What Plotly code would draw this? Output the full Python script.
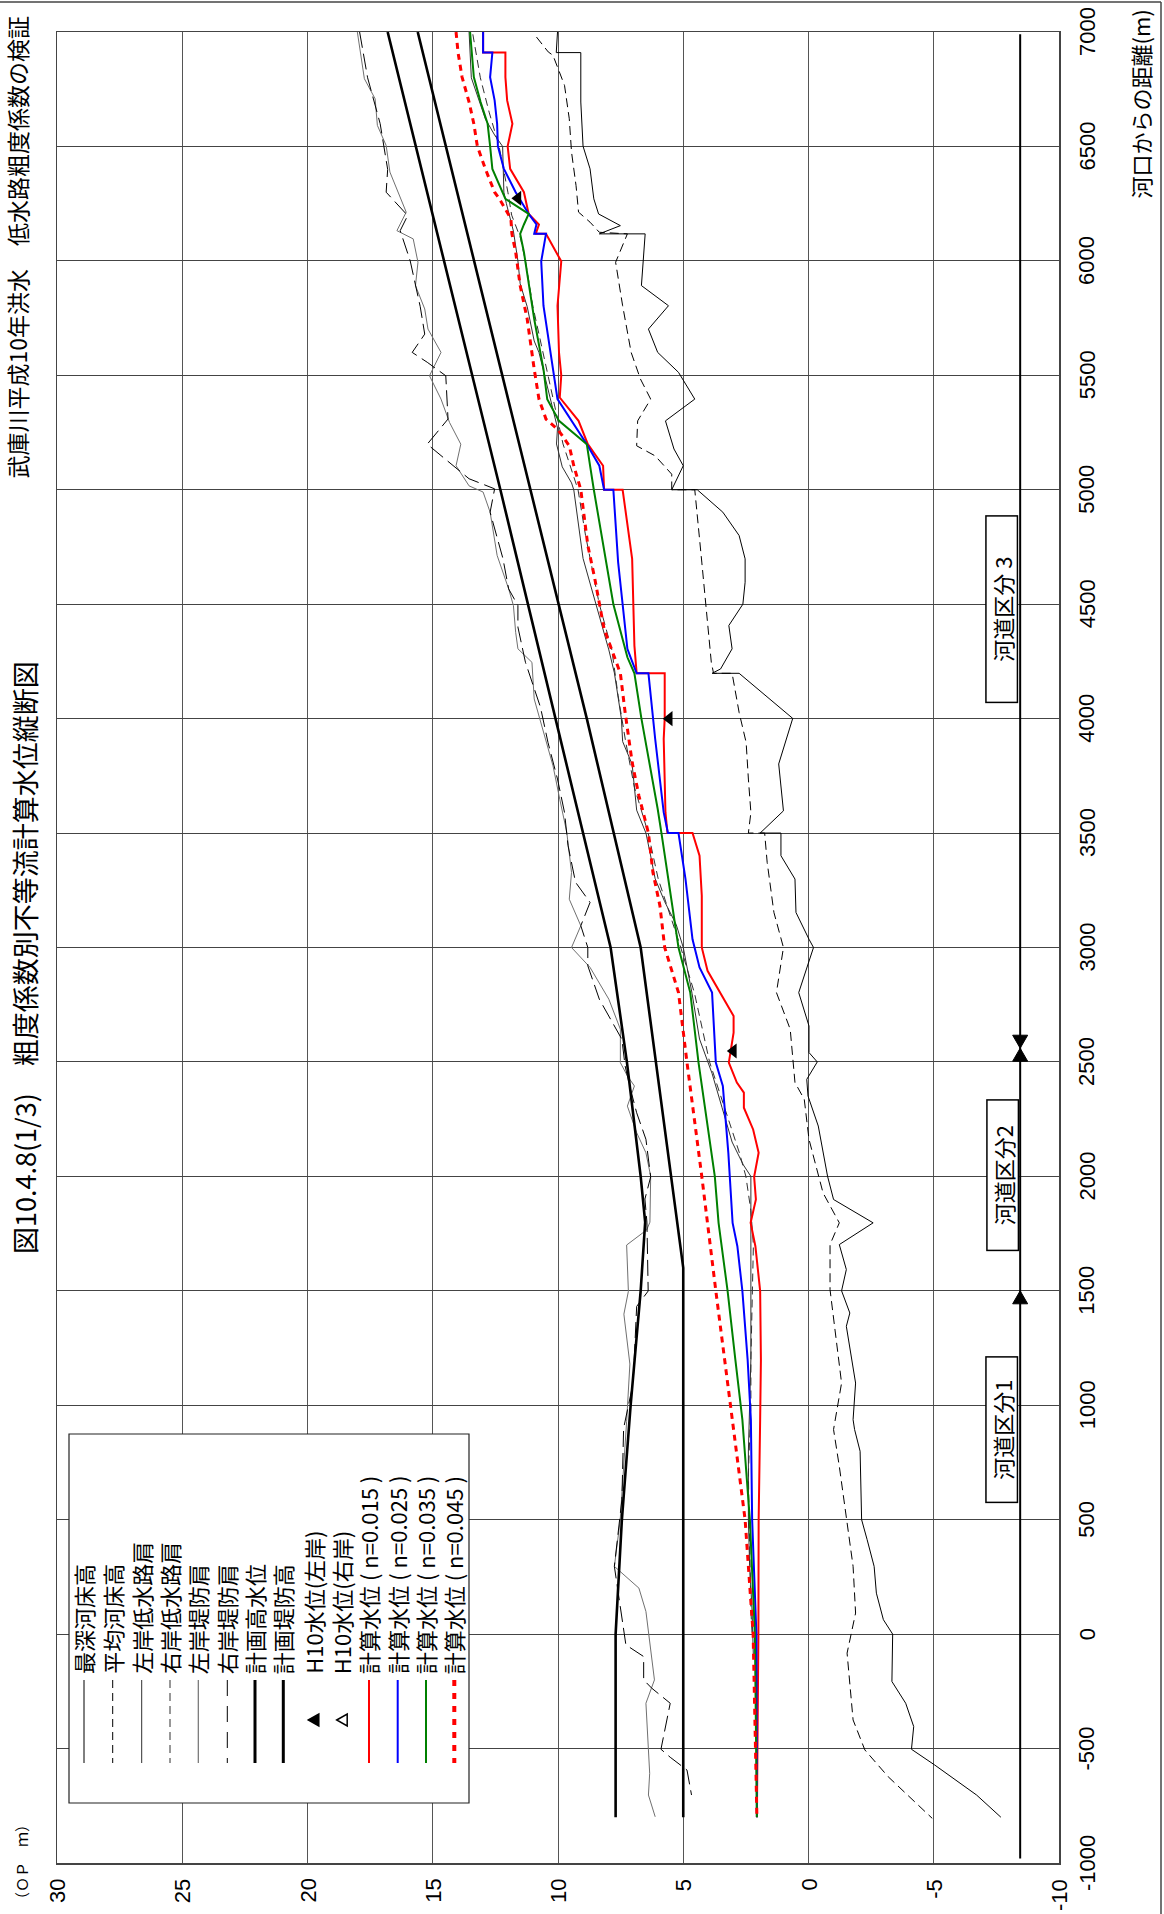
import plotly.graph_objects as go

# ---------------- data ----------------
elev_ticks = [30, 25, 20, 15, 10, 5, 0, -5, -10]
dist_ticks = [-1000, -500, 0, 500, 1000, 1500, 2000, 2500, 3000, 3500,
              4000, 4500, 5000, 5500, 6000, 6500, 7000]

# 最深河床高
deep_bed_d = [7000, 6910, 6910, 6694, 6501, 6402, 6271, 6205, 6154, 6125, 6118, 6118, 5892, 5804, 5702, 5600,
              5513, 5396, 5301, 5178, 5105, 5000, 5000, 4902, 4800, 4698, 4596, 4500, 4407, 4305, 4217, 4198,
              4198, 4001, 3802, 3597, 3500, 3500, 3401, 3299, 3153, 3036, 3000, 2803, 2657, 2541, 2500, 2424,
              2351, 2220, 2001, 1899, 1797, 1702, 1593, 1500, 1403, 1345, 1097, 937, 894, 799, 500, 413, 296,
              179, 63, 0, -207, -302, -404, -503, -572, -703, -800]
deep_bed_e = [10.02, 10.07, 9.09, 9.09, 9.00, 8.72, 8.57, 8.38, 7.51, 8.16, 8.35, 6.52, 6.67, 5.59, 6.39, 6.02,
              5.19, 4.54, 5.71, 5.37, 5.00, 5.46, 4.44, 3.42, 2.77, 2.53, 2.53, 2.62, 3.18, 3.05, 3.51, 3.85,
              2.77, 0.63, 1.19, 1.00, 1.93, 1.10, 1.10, 0.54, 0.50, -0.02, -0.20, 0.39, -0.02, -0.02, -0.35, 0.07,
              0.02, -0.39, -0.76, -1.00, -2.58, -1.23, -1.51, -1.32, -1.65, -1.51, -1.88, -1.78, -1.84, -2.06,
              -2.12, -2.34, -2.62, -2.71, -2.99, -3.36, -3.33, -3.88, -4.20, -4.11, -5.04, -6.71, -7.68]

# 平均河床高
avg_bed_d = [6978, 6913, 6898, 6767, 6621, 6475, 6329, 6213, 6169, 6125, 6118, 5994, 5804, 5600, 5484, 5396,
             5301, 5192, 5148, 5068, 5000, 5000, 4684, 4465, 4246, 4198, 4198, 4027, 3896, 3736, 3590, 3500,
             3500, 3372, 3153, 3000, 2803, 2643, 2410, 2337, 2162, 1928, 1797, 1702, 1505, 1097, 966, 894,
             733, 500, 296, 92, -83, -375, -506, -623, -805]
avg_bed_e = [10.86, 10.39, 10.20, 9.74, 9.55, 9.46, 9.28, 9.18, 8.72, 8.35, 7.23, 7.70, 7.42, 7.08, 6.71, 6.30,
             6.82, 6.86, 6.12, 5.46, 5.46, 4.54, 4.26, 4.07, 3.88, 3.79, 3.05, 2.77, 2.49, 2.40, 2.30, 2.40,
             1.75, 1.65, 1.38, 1.00, 1.28, 0.73, 0.54, 0.17, -0.02, -0.58, -1.23, -0.86, -0.86, -1.32, -1.13,
             -1.00, -1.23, -1.51, -1.78, -1.88, -1.54, -1.78, -2.25, -3.18, -4.94]

# 左岸低水路肩
lw_left_d = [7000, 6800, 6620, 6550, 6500, 6300, 6250, 6130, 6000, 5900, 5800, 5650, 5600, 5400, 5270, 5200,
             5100, 5030, 5000, 4700, 4500, 4300, 4200, 4000, 3900, 3800, 3600, 3500, 3400, 3300, 3200, 3100,
             3000, 2800, 2600, 2450, 2300, 2150, 2050, 2000, 1800, 1500, 1200, 1000, 800, 500, 300, 100, -100]
lw_left_e = [13.55, 13.46, 12.90, 12.53, 12.21, 12.16, 12.06, 11.78, 11.60, 11.51, 11.23, 10.95, 10.76, 10.30,
             10.02, 10.06, 9.83, 9.46, 9.37, 9.00, 8.49, 7.97, 7.75, 7.47, 7.42, 7.04, 6.86, 6.49, 6.30, 6.12,
             5.74, 5.28, 5.00, 4.65, 4.35, 3.85, 3.45, 3.05, 2.60, 2.30, 2.30, 2.30, 2.30, 2.35, 2.40, 2.40,
             2.35, 2.25, 2.20]

# 右岸低水路肩
lw_right_d = [6990, 6800, 6650, 6500, 6300, 6200, 6100, 6000, 5800, 5600, 5400, 5200, 5000, 4800, 4500, 4300,
              4100, 3900, 3700, 3500, 3300, 3100, 3000, 2800, 2500, 2300, 2100, 2000, 1850, 1700, 1500, 1200,
              1000, 700, 400, 100, 0]
lw_right_e = [13.40, 13.10, 12.75, 12.35, 12.00, 11.85, 11.50, 11.30, 11.00, 10.60, 10.20, 9.80, 9.20, 8.90,
              8.35, 7.85, 7.60, 7.30, 6.95, 6.40, 6.00, 5.40, 5.10, 4.55, 3.95, 3.35, 2.75, 2.50, 2.30, 2.20,
              2.25, 2.30, 2.30, 2.40, 2.35, 2.30, 2.25]

# 左岸堤防肩
lv_left_d = [7000, 6796, 6708, 6592, 6504, 6388, 6213, 6132, 6096, 5994, 5892, 5790, 5702, 5600, 5498, 5396,
             5294, 5199, 5105, 5017, 4990, 4902, 4713, 4567, 4494, 4377, 4305, 4246, 4086, 3896, 3794, 3648,
             3503, 3328, 3211, 3095, 3000, 2913, 2774, 2643, 2497, 2439, 2395, 2307, 2191, 2103, 2001, 1800,
             1766, 1700, 1498, 1398, 1180, 929, 587, 494, 296, 201, 99, -200, -302, -608, -703, -798]
lv_left_e = [18.01, 17.73, 17.30, 17.21, 16.86, 16.71, 16.06, 16.43, 15.78, 15.59, 15.69, 15.32, 15.19, 14.67,
             15.13, 14.67, 14.33, 13.88, 14.07, 13.55, 12.99, 12.71, 12.43, 11.97, 11.78, 11.69, 11.60, 11.04,
             10.95, 10.48, 10.20, 9.93, 9.65, 9.46, 9.55, 9.09, 9.46, 8.72, 7.97, 7.51, 7.51, 7.23, 6.95, 7.23,
             6.86, 6.49, 6.30, 6.33, 6.46, 7.26, 7.19, 7.37, 7.13, 7.26, 7.45, 7.52, 7.75, 6.77, 6.49, 6.15,
             6.49, 6.34, 6.39, 6.12]

# 右岸堤防肩
lv_right_d = [7000, 6800, 6600, 6400, 6300, 6271, 6198, 6132, 6000, 5800, 5680, 5600, 5557, 5498, 5309, 5199,
              5105, 5048, 5004, 4902, 4700, 4567, 4494, 4400, 4246, 4050, 3896, 3736, 3590, 3445, 3285, 3197,
              3095, 3000, 2920, 2774, 2599, 2482, 2395, 2278, 2162, 1998, 1901, 1800, 1499, 1432, 1097, 900,
              587, 296, -47, -98, -200, -236, -302, -503, -538, -594, -703]
lv_right_e = [17.92, 17.60, 17.10, 16.80, 16.86, 16.62, 16.00, 16.30, 15.90, 15.50, 15.32, 15.82, 15.22, 14.48,
              14.39, 15.22, 14.20, 13.55, 12.53, 12.71, 12.20, 11.97, 11.60, 11.60, 11.30, 10.70, 10.40, 10.02,
              9.74, 9.60, 9.30, 8.72, 9.09, 8.81, 8.81, 8.35, 7.45, 7.32, 7.14, 6.86, 6.49, 6.30, 6.53, 6.45,
              6.40, 6.86, 7.00, 7.38, 7.45, 7.75, 7.29, 6.58, 6.58, 6.26, 5.52, 5.89, 5.52, 4.85, 4.67]

# 計画高水位 / 計画堤防高
hwl_d = [7000, 5000, 4000, 3000, 2500, 2000, 1600, -800]
hwl_e = [15.6, 11.1, 8.85, 6.7, 6.1, 5.5, 5.0, 5.0]
levee_d = [7000, 5000, 4000, 3000, 2500, 2000, 1800, 1500, 1000, 500, 0, -800]
levee_e = [16.8, 12.3, 10.1, 7.9, 7.25, 6.7, 6.52, 6.7, 7.1, 7.45, 7.7, 7.7]

# H10水位(左岸)
h10_left_d = [6274, 4000, 2548]
h10_left_e = [11.6, 5.56, 3.0]

# 計算水位
n015_d = [7000, 6910, 6910, 6803, 6701, 6599, 6501, 6402, 6300, 6205, 6159, 6118, 6118, 5998, 5804, 5600, 5500,
          5403, 5301, 5199, 5105, 5000, 5000, 4698, 4319, 4198, 4198, 4001, 3911, 3590, 3500, 3500, 3401, 3226,
          3000, 2898, 2701, 2628, 2497, 2410, 2366, 2300, 2205, 2103, 1998, 1899, 1797, 1695, 1500, 1199, 937,
          500, 0, -800]
n015_e = [12.99, 12.99, 12.10, 12.10, 12.03, 11.82, 12.01, 11.91, 11.36, 11.17, 10.76, 10.89, 10.48, 9.87, 10.02,
          9.96, 9.87, 9.93, 9.18, 8.81, 8.20, 8.16, 7.42, 7.04, 6.95, 6.86, 5.74, 5.74, 5.78, 5.71, 5.63, 4.63,
          4.35, 4.26, 4.26, 4.03, 2.99, 2.99, 3.18, 2.86, 2.58, 2.58, 2.21, 1.99, 2.17, 2.10, 2.31, 2.12, 1.93,
          1.90, 1.93, 1.99, 2.00, 2.06]
n025_d = [7000, 6910, 6910, 6803, 6701, 6599, 6501, 6402, 6300, 6205, 6159, 6118, 6118, 5998, 5804, 5600, 5500,
          5396, 5199, 5105, 5000, 5000, 4684, 4305, 4261, 4198, 4198, 3911, 3590, 3500, 3500, 3299, 3036, 2913,
          2803, 2497, 2395, 2103, 1797, 1695, 1500, 1199, 937, 500, 0, -800]
n025_e = [12.99, 12.99, 12.62, 12.71, 12.53, 12.43, 12.40, 12.16, 11.69, 11.17, 10.86, 10.95, 10.48, 10.67, 10.58,
          10.30, 10.15, 10.02, 8.85, 8.35, 8.16, 7.79, 7.60, 7.23, 7.08, 6.86, 6.39, 6.12, 5.78, 5.61, 5.19, 4.91,
          4.63, 4.35, 3.85, 3.70, 3.42, 3.20, 3.03, 2.84, 2.64, 2.43, 2.30, 2.25, 2.08, 2.06]
n035_d = [7000, 6910, 6803, 6694, 6599, 6501, 6402, 6271, 6205, 6159, 6118, 6038, 5746, 5527, 5396, 5301, 5199,
          5105, 5000, 4500, 4268, 4198, 4000, 3605, 3500, 3000, 2803, 2497, 2000, 1797, 1500, 1199, 937, 500, 0,
          -800]
n035_e = [13.51, 13.45, 13.36, 13.09, 12.81, 12.71, 12.62, 12.10, 11.17, 11.36, 11.51, 11.36, 10.95, 10.58, 10.43,
          9.96, 8.85, 8.72, 8.57, 7.79, 7.23, 6.95, 6.67, 6.02, 5.87, 5.19, 4.72, 4.39, 3.74, 3.59, 3.23, 2.92,
          2.64, 2.34, 2.14, 2.06]
n045_d = [7000, 6910, 6803, 6694, 6599, 6501, 6402, 6300, 6271, 6184, 6118, 6038, 5892, 5746, 5527, 5396, 5309,
          5265, 5236, 5192, 5105, 5000, 4757, 4611, 4392, 4198, 4027, 3809, 3663, 3500, 3328, 3182, 3000, 2803,
          2497, 2000, 1500, 937, 500, 0, -800]
n045_e = [14.07, 13.99, 13.83, 13.55, 13.36, 13.22, 12.90, 12.53, 12.34, 11.88, 11.84, 11.69, 11.51, 11.23, 10.95,
          10.76, 10.48, 10.02, 9.83, 9.55, 9.37, 9.09, 8.81, 8.53, 8.16, 7.51, 7.32, 7.04, 6.77, 6.39, 6.21, 5.93,
          5.74, 5.19, 4.85, 4.26, 3.70, 3.03, 2.53, 2.21, 2.06]

# 河道区分
kubun_elev = -8.45
kubun_extent = [-980, 6990]
kubun_bounds = [1500, 2560]
kubun_labels = ["河道区分1", "河道区分2", "河道区分 3"]
kubun_label_dist = [892, 2006, 4479]

legend_labels = ["最深河床高", "平均河床高", "左岸低水路肩", "右岸低水路肩", "左岸堤防肩", "右岸堤防肩",
                 "計画高水位", "計画堤防高", "H10水位(左岸)", "H10水位(右岸)",
                 "計算水位 ( n=0.015 )", "計算水位 ( n=0.025 )", "計算水位 ( n=0.035 )", "計算水位 ( n=0.045 )"]

title_text = "図10.4.8(1/3)　粗度係数別不等流計算水位縦断図"
subtitle_text = "武庫川平成10年洪水　低水路粗度係数の検証"
xlabel_text = "河口からの距離(m)"
ylabel_text = "（ＯＰ　ｍ）"

# ---------------- layout helpers ----------------
W, H = 1164, 1914
ML, MR, MT, MB = 57, 105, 32, 51
PW, PH = W - ML - MR, H - MT - MB
E_PER_PX = 40.0 / PW
D_PER_PX = 8000.0 / PH


def pxx(x):
    return (x - ML) / PW


def pxy(y):
    return (H - MB - y) / PH


NUMF = "Liberation Sans, Arial, sans-serif"
JPF = "Noto Sans CJK JP, sans-serif"

fig = go.Figure()

styles = [
    (lv_left_e, lv_left_d, dict(color="#707070", width=1)),
    (lv_right_e, lv_right_d, dict(color="black", width=1, dash="16px,6px")),
    (lw_left_e, lw_left_d, dict(color="#303030", width=1)),
    (lw_right_e, lw_right_d, dict(color="#303030", width=1, dash="8px,5px")),
    (avg_bed_e, avg_bed_d, dict(color="black", width=1, dash="9px,5px")),
    (deep_bed_e, deep_bed_d, dict(color="black", width=1)),
    (levee_e, levee_d, dict(color="black", width=2.6)),
    (hwl_e, hwl_d, dict(color="black", width=2.6)),
    (n015_e, n015_d, dict(color="#ff0000", width=2)),
    (n025_e, n025_d, dict(color="#0000ff", width=2)),
    (n035_e, n035_d, dict(color="#008000", width=2)),
    (n045_e, n045_d, dict(color="#ff0000", width=3, dash="6px,5px")),
]
for e, d, ln in styles:
    fig.add_trace(go.Scatter(x=e, y=d, mode="lines", line=ln, hoverinfo="skip", showlegend=False))

fig.add_trace(go.Scatter(x=h10_left_e, y=h10_left_d, mode="markers",
                         marker=dict(symbol="triangle-left", size=13, color="black"),
                         hoverinfo="skip", showlegend=False))

# 河道区分 line
fig.add_trace(go.Scatter(x=[kubun_elev, kubun_elev], y=kubun_extent, mode="lines",
                         line=dict(color="black", width=2), hoverinfo="skip", showlegend=False))

shapes = []
# arrows on 河道区分 line
hw = 7.5 * E_PER_PX
th = 13 * D_PER_PX
arrow_specs = [(kubun_bounds[0], 1), (kubun_bounds[1], 1), (kubun_bounds[1], -1)]
for b, sgn in arrow_specs:
    base = b - sgn * th
    path = f"M {kubun_elev},{b} L {kubun_elev - hw},{base} L {kubun_elev + hw},{base} Z"
    shapes.append(dict(type="path", xref="x", yref="y", path=path, fillcolor="black",
                       line=dict(color="black", width=1), layer="above"))

# outer frame (top and right)
shapes.append(dict(type="line", xref="paper", yref="paper", x0=pxx(0), x1=pxx(1161), y0=pxy(2), y1=pxy(2),
                   line=dict(color="#444", width=1.5)))
shapes.append(dict(type="line", xref="paper", yref="paper", x0=pxx(1161), x1=pxx(1161), y0=pxy(2), y1=pxy(1914),
                   line=dict(color="#444", width=1.5)))

# legend box
shapes.append(dict(type="rect", xref="paper", yref="paper", x0=pxx(69), x1=pxx(469), y0=pxy(1434), y1=pxy(1803),
                   fillcolor="white", line=dict(color="#222", width=1.2), layer="above"))

leg_x = [84, 112.7, 141.7, 170, 198.3, 227.3, 255, 283.3, 313.3, 341.7, 369, 397.7, 426, 454.3]
leg_line_styles = [
    dict(color="black", width=1),
    dict(color="black", width=1, dash="8px,5px"),
    dict(color="#303030", width=1),
    dict(color="#303030", width=1, dash="8px,5px"),
    dict(color="#707070", width=1.2),
    dict(color="black", width=1, dash="16px,10px"),
    dict(color="black", width=3),
    dict(color="black", width=3),
    None, None,
    dict(color="#ff0000", width=2),
    dict(color="#0000ff", width=2),
    dict(color="#008000", width=2),
    dict(color="#ff0000", width=4, dash="6px,7px"),
]
annotations = []
for i, (x, lab) in enumerate(zip(leg_x, legend_labels)):
    st = leg_line_styles[i]
    if st is not None:
        shapes.append(dict(type="line", xref="paper", yref="paper", x0=pxx(x), x1=pxx(x),
                           y0=pxy(1680), y1=pxy(1763), line=st, layer="above"))
    else:
        cy = 1720
        p = (f"M {pxx(x - 5)},{pxy(cy)} L {pxx(x + 5.5)},{pxy(cy - 6)} "
             f"L {pxx(x + 5.5)},{pxy(cy + 6)} Z")
        filled = (i == 8)
        shapes.append(dict(type="path", xref="paper", yref="paper", path=p,
                           fillcolor="black" if filled else "white",
                           line=dict(color="black", width=1.5), layer="above"))
    annotations.append(dict(xref="paper", yref="paper", x=pxx(x - 1), y=pxy(1676), text=lab, textangle=-90,
                            xanchor="center", yanchor="bottom", showarrow=False,
                            font=dict(family=JPF, size=22, color="black")))

# 河道区分 labels
kubun_len = [146, 151, 187]
for lab, dd, ln in zip(kubun_labels, kubun_label_dist, kubun_len):
    annotations.append(dict(xref="x", yref="y", x=kubun_elev + 1.5 * E_PER_PX, y=dd, text=lab, textangle=-90,
                            xanchor="right", yanchor="middle", showarrow=False, width=ln - 4, height=28,
                            bgcolor="white", bordercolor="black", borderwidth=1.5, borderpad=1,
                            font=dict(family=JPF, size=22, color="black")))

# tick labels (rotated, placed through the axes)
for d in dist_ticks:
    annotations.append(dict(xref="paper", yref="y", x=pxx(1087), y=d, text=str(d), textangle=-90,
                            xanchor="center", yanchor="middle", showarrow=False,
                            font=dict(family=NUMF, size=22, color="black")))
for e in elev_ticks:
    annotations.append(dict(xref="x", yref="paper", x=e, y=pxy(1877), text=str(e), textangle=-90,
                            xanchor="center", yanchor="top", showarrow=False,
                            font=dict(family=NUMF, size=22, color="black")))

# titles
annotations.append(dict(xref="paper", yref="paper", x=pxx(24), y=pxy(958), text=title_text, textangle=-90,
                        xanchor="center", yanchor="middle", showarrow=False,
                        font=dict(family=JPF, size=27, color="black")))
annotations.append(dict(xref="paper", yref="paper", x=pxx(17), y=pxy(14), text=subtitle_text, textangle=-90,
                        xanchor="center", yanchor="top", showarrow=False,
                        font=dict(family=JPF, size=23, color="black")))
annotations.append(dict(xref="paper", yref="paper", x=pxx(1140), y=pxy(8), text=xlabel_text, textangle=-90,
                        xanchor="center", yanchor="top", showarrow=False,
                        font=dict(family=JPF, size=22, color="black")))
annotations.append(dict(xref="paper", yref="paper", x=pxx(21), y=pxy(1862), text=ylabel_text, textangle=-90,
                        xanchor="center", yanchor="middle", showarrow=False,
                        font=dict(family=JPF, size=15, color="black")))

fig.update_xaxes(range=[30, -10], tickvals=elev_ticks, showticklabels=False, showgrid=True, gridcolor="#555",
                 gridwidth=1, showline=True, linecolor="#444", linewidth=1.5, mirror=True, zeroline=False,
                 ticks="", fixedrange=True, automargin=False)
fig.update_yaxes(range=[-1000, 7000], side="right", tickvals=dist_ticks, showticklabels=False, showgrid=True,
                 gridcolor="#444", gridwidth=1, showline=True, linecolor="#444", linewidth=1.5, mirror=True,
                 zeroline=False, ticks="", fixedrange=True, automargin=False)

fig.update_layout(width=W, height=H, autosize=False, margin=dict(l=ML, r=MR, t=MT, b=MB, pad=0),
                  plot_bgcolor="white", paper_bgcolor="white", showlegend=False,
                  shapes=shapes, annotations=annotations)

fig.write_html("out.html", config={"displayModeBar": False, "staticPlot": True},
               post_script="document.body.style.margin='0';document.body.style.padding='0';")
